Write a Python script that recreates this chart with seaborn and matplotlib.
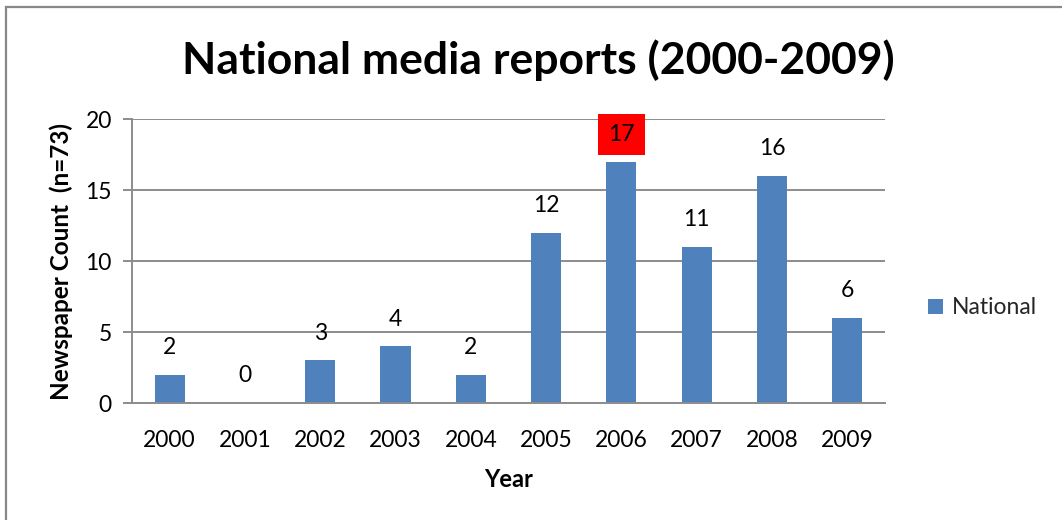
import matplotlib
matplotlib.use("Agg")
import matplotlib.pyplot as plt
from matplotlib.patches import Rectangle, Patch
import seaborn as sns
import pandas as pd

years = ["2000", "2001", "2002", "2003", "2004", "2005", "2006", "2007", "2008", "2009"]
counts = [2, 0, 3, 4, 2, 12, 17, 11, 16, 6]
series_name = "National"
highlight_year = "2006"

title = "National media reports (2000-2009)"
x_label = "Year"
y_label = "Newspaper Count  (n=73)"
y_ticks = [0, 5, 10, 15, 20]

BAR_BLUE = "#4F81BD"
GRID_GRAY = "#8C8C8C"
FS = 16.5

sns.set_theme(style="white")
plt.rcParams["font.family"] = ["Lato", "DejaVu Sans"]

df = pd.DataFrame({"year": years, "count": counts})

fig = plt.figure(figsize=(10.62, 5.2), dpi=100)
ax = fig.add_axes([0.1243, 0.225, 0.709, 0.546])

sns.barplot(data=df, x="year", y="count", color=BAR_BLUE, width=0.4,
            saturation=1, linewidth=0, ax=ax, zorder=3)

ax.set_ylim(0, 20)
ax.set_xlim(-0.5, len(years) - 0.5)
ax.set_yticks(y_ticks)
ax.yaxis.grid(True, color=GRID_GRAY, linewidth=1.4, zorder=0)
ax.xaxis.grid(False)
for side in ("top", "right"):
    ax.spines[side].set_visible(False)
for side in ("left", "bottom"):
    ax.spines[side].set_color(GRID_GRAY)
    ax.spines[side].set_linewidth(1.4)
    ax.spines[side].set_zorder(4)

ax.tick_params(axis="y", which="major", left=True, length=6.5, width=1.4,
               color=GRID_GRAY, labelsize=FS, labelcolor="black", pad=8)
ax.tick_params(axis="x", which="major", bottom=False, labelsize=FS,
               labelcolor="black", pad=13.5)

ax.set_xlabel(x_label, fontsize=17, fontweight="bold", color="black", labelpad=12)
ax.set_ylabel(y_label, fontsize=17.5, fontweight="bold", color="black", labelpad=9)

# Value labels above each bar, the peak year boxed in red
for i, (yr, v) in enumerate(zip(years, counts)):
    kw = {}
    if yr == highlight_year:
        kw["bbox"] = dict(boxstyle="square,pad=0.45", facecolor="#FF0000",
                          edgecolor="none")
    ax.annotate(str(v), xy=(i, v), xytext=(0, 19.5), textcoords="offset points",
                ha="center", va="center", fontsize=FS, color="black",
                zorder=5, **kw)

fig.suptitle(title, x=0.507, y=0.885, fontsize=32, fontweight="bold",
             color="black", va="center")

ax.legend(handles=[Patch(facecolor=BAR_BLUE, edgecolor="none", label=series_name)],
          loc="center left", bbox_to_anchor=(1.045, 0.335), frameon=False,
          fontsize=FS, handlelength=0.65, handleheight=0.65, handletextpad=0.4,
          borderaxespad=0)

# Outer chart frame
fig.patches.append(Rectangle((5.5 / 1062, -0.1), 1.2, 1 - 7.5 / 520 + 0.1,
                             transform=fig.transFigure, fill=False,
                             edgecolor="#888888", linewidth=1.6, zorder=0))

fig.savefig("out.png", dpi=100)
